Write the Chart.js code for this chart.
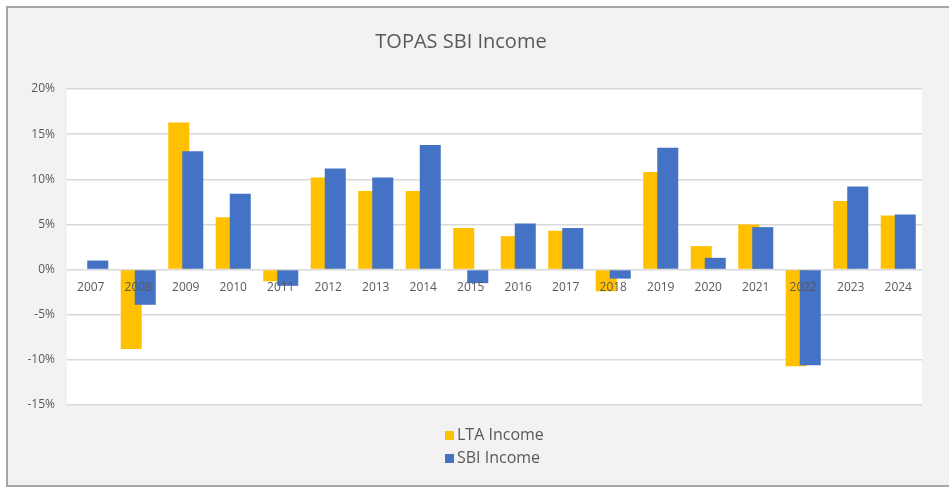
<!DOCTYPE html>
<html><head><meta charset="utf-8">
<script src="https://cdn.jsdelivr.net/npm/chart.js@4"></script>
<style>
html,body{margin:0;padding:0;background:#fff;overflow:hidden;width:949px;height:491px}
#frame{position:absolute;left:6px;top:6px;width:1000px;height:477px;border:2px solid #a6a6a6;background:#f2f2f2}
#wrap{position:absolute;left:0;top:0;width:949px;height:491px}
</style></head><body>
<div id="frame"></div>
<div id="wrap"><canvas id="c" width="949" height="491"></canvas></div>
<script>
const years = ['2007','2008','2009','2010','2011','2012','2013','2014','2015','2016','2017','2018','2019','2020','2021','2022','2023','2024'];
const ltaIncome = [null, -8.8, 16.3, 5.8, -1.3, 10.2, 8.7, 8.7, 4.6, 3.7, 4.3, -2.4, 10.8, 2.6, 5.0, -10.7, 7.6, 6.0];
const sbiIncome = [1.0, -3.9, 13.1, 8.4, -1.8, 11.2, 10.2, 13.8, -1.5, 5.1, 4.6, -1.0, 13.5, 1.3, 4.7, -10.6, 9.2, 6.1];
const yMin = -15, yMax = 20, yStep = 5;
const chartTitle = 'TOPAS SBI Income';
const seriesNames = ['LTA Income', 'SBI Income'];

const FONT = '"Open Sans", "DejaVu Sans", sans-serif';
const TEXT = '#595959';
Chart.defaults.font.family = FONT;
Chart.defaults.color = TEXT;

const plotBg = {
  id: 'plotBg',
  beforeDraw(chart) {
    const {ctx, chartArea: a} = chart;
    ctx.save();
    ctx.fillStyle = '#ffffff';
    ctx.fillRect(a.left, a.top, a.right - a.left, a.bottom - a.top);
    ctx.restore();
  }
};

// draw second series on top of first (overlapping bars)
const secondOnTop = {
  id: 'secondOnTop',
  beforeDatasetDraw(chart, args) { if (args.index === 1) return false; },
  afterDatasetsDraw(chart) {
    const meta = chart.getDatasetMeta(1);
    if (!meta.hidden) meta.controller.draw();
  }
};

const stackedLegend = {
  id: 'stackedLegend',
  afterDraw(chart) {
    const {ctx, chartArea: a} = chart;
    const items = chart.data.datasets;
    ctx.save();
    ctx.font = '16px ' + FONT;
    const w = Math.max(...items.map(d => ctx.measureText(d.label).width));
    const box = 9, gap = 3;
    const left = Math.round((a.left + a.right) / 2 - (box + gap + w) / 2);
    items.forEach((d, i) => {
      const cy = a.bottom + 30 + i * 23;
      ctx.fillStyle = d.backgroundColor;
      ctx.fillRect(left, Math.round(cy - box / 2), box, box);
      ctx.fillStyle = TEXT;
      ctx.textBaseline = 'middle';
      ctx.textAlign = 'left';
      ctx.fillText(d.label, left + box + gap, cy);
    });
    ctx.restore();
  }
};

new Chart(document.getElementById('c'), {
  type: 'bar',
  data: {
    labels: years,
    datasets: [
      { label: seriesNames[0], data: ltaIncome, backgroundColor: '#FFC000', borderWidth: 0 },
      { label: seriesNames[1], data: sbiIncome, backgroundColor: '#4472C4', borderWidth: 0 }
    ]
  },
  options: {
    responsive: false,
    animation: false,
    categoryPercentage: 0.59,
    barPercentage: 1.5,
    layout: { padding: { left: 0, right: 27, top: 0, bottom: 86 } },
    plugins: {
      legend: { display: false },
      tooltip: { enabled: false },
      title: {
        display: true, text: chartTitle, color: TEXT,
        font: { size: 20, weight: 'normal', family: FONT },
        padding: { top: 30, bottom: 35 }
      }
    },
    scales: {
      x: {
        type: 'category',
        position: { y: 0 },
        grid: { display: false, drawTicks: false },
        border: { display: false },
        ticks: { z: 1, color: TEXT, font: { size: 12 }, padding: 11, maxRotation: 0, autoSkip: false }
      },
      y: {
        min: yMin, max: yMax,
        grid: { color: '#d9d9d9', lineWidth: 1.5, drawTicks: false },
        border: { display: false },
        ticks: { stepSize: yStep, color: TEXT, font: { size: 12 }, padding: 12, callback: v => v + '%' },
        afterFit(scale) { scale.width = 67; }
      }
    }
  },
  plugins: [plotBg, secondOnTop, stackedLegend]
});
</script>
</body></html>
